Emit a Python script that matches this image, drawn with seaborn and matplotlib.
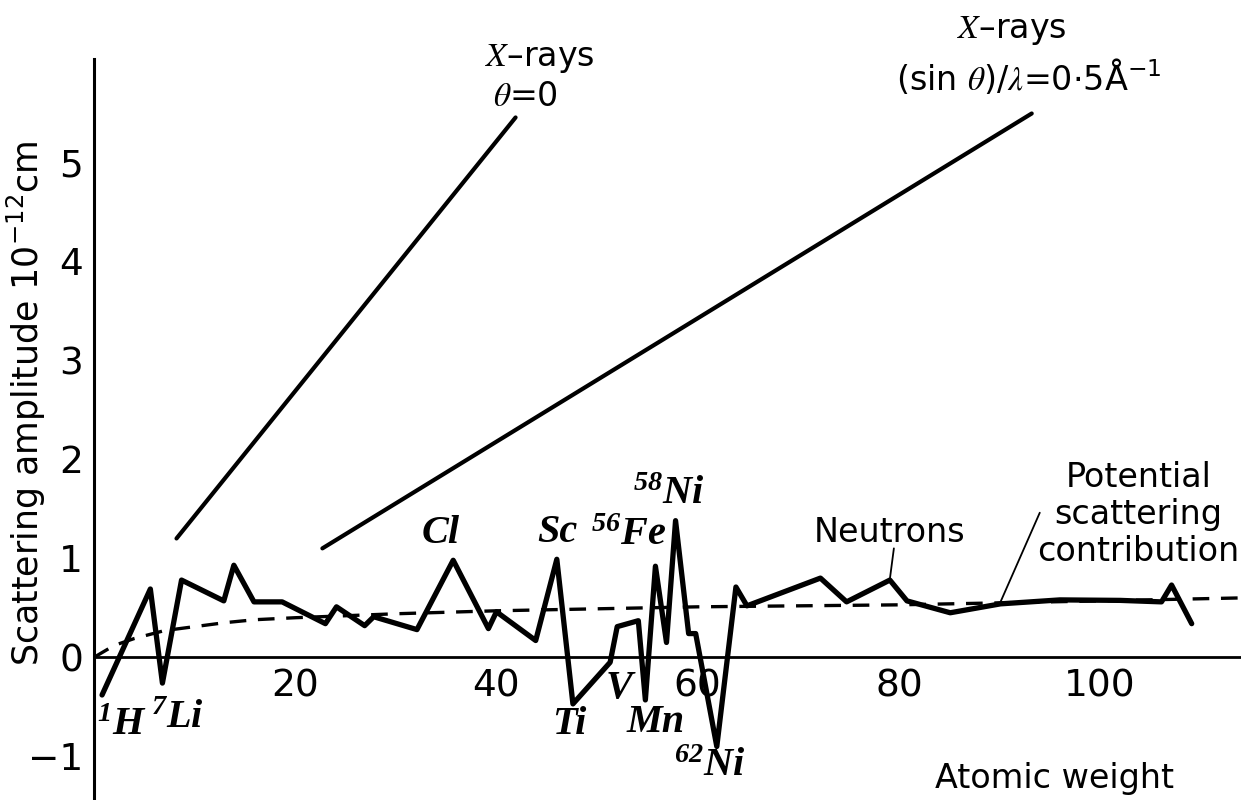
import matplotlib
matplotlib.use("Agg")
import matplotlib.pyplot as plt
import seaborn as sns
import pandas as pd

# ---------------- data ----------------
# Neutron scattering amplitude vs atomic weight (10^-12 cm)
neutron_A = [0.8, 5.6, 6.8, 8.7, 12.9, 13.9, 15.9, 18.7, 23.0, 24.1,
             26.9, 27.8, 32.1, 35.7, 39.2, 40.0, 43.9, 46.0, 47.6, 51.3,
             52.0, 54.1, 54.8, 55.8, 56.9, 57.8, 59.1, 59.8, 61.9, 63.8,
             64.9, 72.2, 74.8, 79.1, 80.8, 85.1, 90.1, 96.0, 102.0, 106.1,
             107.1, 109.1]
neutron_b = [-0.38, 0.69, -0.26, 0.78, 0.57, 0.93, 0.56, 0.56, 0.34, 0.51,
             0.32, 0.41, 0.28, 0.98, 0.29, 0.46, 0.17, 0.99, -0.47, -0.05,
             0.31, 0.37, -0.43, 0.92, 0.15, 1.38, 0.24, 0.24, -0.90, 0.71,
             0.52, 0.80, 0.56, 0.78, 0.57, 0.45, 0.54, 0.58, 0.575, 0.56,
             0.73, 0.34]

# Potential scattering contribution (dashed)
potential_A = [0, 1, 2, 4, 7, 10, 13, 16, 20, 25, 30, 40, 50, 60, 70, 80, 90, 100, 114]
potential_b = [0, 0.06, 0.12, 0.19, 0.27, 0.31, 0.35, 0.38, 0.40, 0.42, 0.44,
               0.47, 0.49, 0.51, 0.52, 0.53, 0.55, 0.57, 0.60]

# X-ray lines
xray0_A = [8.2, 41.9]
xray0_b = [1.20, 5.45]
xray05_A = [22.7, 93.2]
xray05_b = [1.10, 5.49]

# Axis ticks
x_ticks = [10, 20, 30, 40, 50, 60, 70, 80, 90, 100, 110]
x_ticklabels = ["", "20", "", "40", "", "60", "", "80", "", "100", ""]
y_ticks = [-1, 0, 1, 2, 3, 4, 5]
y_ticklabels = ["\u22121", "0", "1", "2", "3", "4", "5"]

# ---------------- figure ----------------
sns.set_theme(style="white")
plt.rcParams["font.family"] = ["DejaVu Sans"]
plt.rcParams["mathtext.fontset"] = "stix"
plt.rcParams["mathtext.default"] = "regular"

fig = plt.figure(figsize=(12.41, 8.0), dpi=100)
ax = fig.add_axes([94 / 1241, 0.0, 1 - 94 / 1241, 1 - 59 / 800])

neutron_df = pd.DataFrame({"A": neutron_A, "b": neutron_b})
pot_df = pd.DataFrame({"A": potential_A, "b": potential_b})

sns.lineplot(data=pot_df, x="A", y="b", ax=ax, color="black", lw=2.4,
             estimator=None, sort=False, linestyle=(0, (5, 3.5)))
sns.lineplot(data=neutron_df, x="A", y="b", ax=ax, color="black", lw=3.8,
             estimator=None, sort=False)
sns.lineplot(x=xray0_A, y=xray0_b, ax=ax, color="black", lw=3.0,
             estimator=None, sort=False)
sns.lineplot(x=xray05_A, y=xray05_b, ax=ax, color="black", lw=3.0,
             estimator=None, sort=False)

ax.set_xlim(0, 114.0)
ax.set_ylim(-1.44, 6.04)

for s in ["top", "right"]:
    ax.spines[s].set_visible(False)
ax.spines["bottom"].set_position(("data", 0))
ax.spines["left"].set_linewidth(2.2)
ax.spines["bottom"].set_linewidth(2.0)
ax.spines["left"].set_color("black")
ax.spines["bottom"].set_color("black")

ax.set_xticks(x_ticks)
ax.set_xticklabels(x_ticklabels)
ax.set_yticks(y_ticks)
ax.set_yticklabels(y_ticklabels)
ax.tick_params(axis="both", direction="in", length=10, width=1.8,
               color="black", labelcolor="black", labelsize=27)
ax.tick_params(axis="x", pad=8)
ax.tick_params(axis="y", pad=8)
ax.set_xlabel("")
ax.set_ylabel("Scattering amplitude 10$^{\u221212}$cm", fontsize=25,
              color="black")
ax.yaxis.set_label_coords(-0.040, 0.535)

serif = dict(family="Liberation Serif", style="italic", fontsize=29,
             color="black", ha="center", va="center", fontweight="bold")
elem_labels = [
    (2.8, -0.69, "$^{1}$H"),
    (8.3, -0.62, "$^{7}$Li"),
    (34.5, 1.25, "Cl"),
    (46.1, 1.26, "Sc"),
    (53.1, 1.23, "$^{56}$Fe"),
    (57.1, 1.64, "$^{58}$Ni"),
    (47.2, -0.68, "Ti"),
    (52.2, -0.31, "V"),
    (55.8, -0.66, "Mn"),
    (61.2, -1.10, "$^{62}$Ni"),
]
for x, y, t in elem_labels:
    ax.text(x, y, t, **serif)

sans = dict(fontsize=24, color="black", ha="center", va="center")
ax.text(44.3, 6.05, "$\\mathit{X}$\u2013rays", **sans)
ax.text(42.9, 5.66, "$\\mathit{\\theta}$=0", **sans)
ax.text(91.2, 6.33, "$\\mathit{X}$\u2013rays", **sans)
ax.text(92.9, 5.86, "(sin $\\mathit{\\theta}$)/$\\mathit{\\lambda}$=0$\\cdot$5\u00c5$^{\u22121}$", **sans)
ax.text(79.1, 1.26, "Neutrons", **sans)
ax.text(103.8, 1.44, "Potential\nscattering\ncontribution", linespacing=1.15, **sans)
ax.text(95.5, -1.22, "Atomic weight", **sans)

# leader lines
ax.plot([79.5, 79.1], [1.10, 0.79], color="black", lw=1.3)
ax.plot([94.0, 90.1], [1.46, 0.56], color="black", lw=1.3)

fig.savefig("out.png", dpi=100, facecolor="white")
